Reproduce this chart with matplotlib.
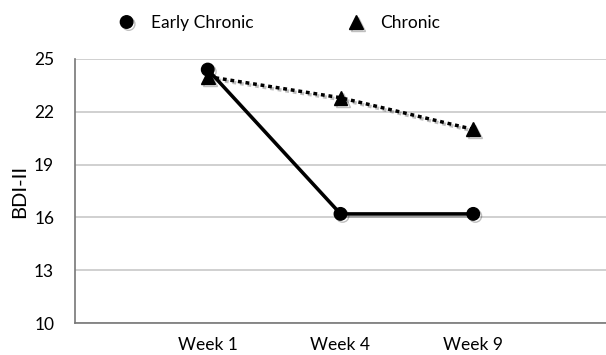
import matplotlib
matplotlib.use("Agg")
import matplotlib.pyplot as plt
import matplotlib.patheffects as pe

weeks = ["Week 1", "Week 4", "Week 9"]
early_chronic = [24.4, 16.2, 16.2]
chronic = [24.0, 22.8, 21.0]
yticks = [10, 13, 16, 19, 22, 25]

plt.rcParams['font.family'] = ['Lato', 'DejaVu Sans']

fig = plt.figure(figsize=(6.06, 3.55), dpi=100)
ax = fig.add_axes([75/606, 1-323/355, 1-75/606, (323-59)/355])

x = [1, 2, 3]
shadow = [pe.SimpleLineShadow(offset=(1.5, -1.5), alpha=0.25, shadow_color='black'), pe.Normal()]
l1, = ax.plot(x, early_chronic, color='black', lw=2.5, marker='o', markersize=9,
              label='Early Chronic', path_effects=shadow, zorder=4)
l2, = ax.plot(x, chronic, color='black', lw=2.5, ls=(0, (1.1, 1.1)), marker='^', markersize=10,
              label='Chronic', path_effects=shadow, zorder=3)

ax.set_xlim(0, 4)
ax.set_ylim(10, 25)
ax.set_yticks(yticks)
ax.set_yticklabels([str(t) for t in yticks], fontsize=12.5)
ax.set_xticks(x)
ax.set_xticklabels(weeks, fontsize=12.5)
ax.tick_params(length=0, pad=10)
ax.tick_params(axis='y', pad=15)
ax.yaxis.grid(True, color='#c8c8c8', lw=1.2)
ax.set_axisbelow(True)
for s in ['top', 'right']:
    ax.spines[s].set_visible(False)
for s in ['left', 'bottom']:
    ax.spines[s].set_color('#777777')
    ax.spines[s].set_linewidth(1.2)
ax.set_ylabel('BDI-II', fontsize=14.5, labelpad=4.5)

fig.legend(handles=[l1, l2], loc='center', bbox_to_anchor=(0.462, 0.935), ncol=2,
           frameon=False, fontsize=12.5, handlelength=0.8, columnspacing=5.5,
           handletextpad=1.0)
for h in fig.legends[0].legend_handles:
    h.set_linestyle('none')

fig.savefig('out.png', dpi=100)
